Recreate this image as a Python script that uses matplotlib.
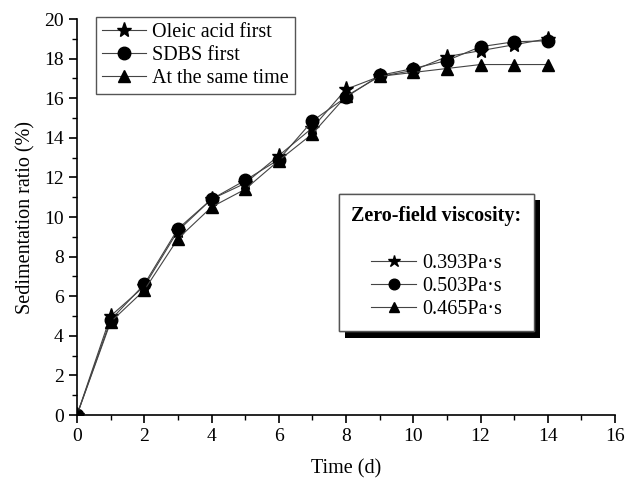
import matplotlib.pyplot as plt
import matplotlib.patheffects as pe
from matplotlib.lines import Line2D

plt.rcParams['font.family'] = ['Liberation Serif', 'DejaVu Serif']

days = [0, 1, 2, 3, 4, 5, 6, 7, 8, 9, 10, 11, 12, 13, 14]
oleic_first = [0, 5.0, 6.5, 9.3, 10.9, 11.7, 13.1, 14.5, 16.45, 17.1, 17.4, 18.1, 18.4, 18.7, 19.0]
sdbs_first = [0, 4.8, 6.6, 9.4, 10.9, 11.85, 12.9, 14.85, 16.05, 17.15, 17.5, 17.9, 18.6, 18.85, 18.9]
same_time = [0, 4.7, 6.3, 8.9, 10.5, 11.4, 12.85, 14.2, 16.1, 17.1, 17.3, 17.5, 17.7, 17.7, 17.7]

names = ["Oleic acid first", "SDBS first", "At the same time"]
viscosity = ["0.393Pa\u00b7s", "0.503Pa\u00b7s", "0.465Pa\u00b7s"]
markers = ["*", "o", "^"]
msizes = [11, 9, 9]

fig = plt.figure(figsize=(6.34, 4.82), dpi=100)
ax = fig.add_axes([77 / 634, 67 / 482, 538 / 634, 396 / 482])

handles = []
for y, name, m, ms in zip([oleic_first, sdbs_first, same_time], names, markers, msizes):
    h, = ax.plot(days, y, color="#444444", lw=0.8, marker=m, ms=ms,
                 mfc="black", mec="black", label=name)
    handles.append(h)

ax.set_xlim(0, 16)
ax.set_ylim(0, 20)
ax.set_xticks(range(0, 17, 2))
ax.set_xticks(range(1, 16, 2), minor=True)
ax.set_yticks(range(0, 21, 2))
ax.set_yticks(range(1, 20, 2), minor=True)
for s in ["top", "right"]:
    ax.spines[s].set_visible(False)
for s in ["left", "bottom"]:
    ax.spines[s].set_linewidth(1.2)
ax.tick_params(which="major", direction="out", length=6, width=1.2, labelsize=14)
ax.tick_params(which="minor", direction="out", length=3.5, width=1.0)
ax.set_xlabel("Time (d)", fontsize=14.5, labelpad=10)
ax.set_ylabel("Sedimentation ratio (%)", fontsize=14.5, labelpad=6)

leg1 = ax.legend(handles=handles, loc="upper left",
                 bbox_to_anchor=(96 / 634, 1 - 17 / 482), bbox_transform=fig.transFigure,
                 fontsize=14.5, frameon=True, fancybox=False, edgecolor="#555555",
                 framealpha=1, handlelength=2.2, handletextpad=0.3, labelspacing=0.2,
                 borderpad=0.3, borderaxespad=0, numpoints=1)
leg1.get_frame().set_linewidth(1.0)
ax.add_artist(leg1)

h2 = [Line2D([], [], color="#444444", lw=0.8, marker=m, ms=ms * 0.85,
             mfc="black", mec="black") for m, ms in zip(markers, msizes)]
leg2 = ax.legend(h2, viscosity, loc="upper left",
                 bbox_to_anchor=(339 / 634, 1 - 194 / 482), bbox_transform=fig.transFigure,
                 title="Zero-field viscosity:\n", fontsize=14.5,
                 title_fontproperties={"weight": "bold", "size": 14.5},
                 alignment="center",
                 frameon=True, fancybox=False, edgecolor="#555555", framealpha=1,
                 handlelength=2.2, handletextpad=0.3, labelspacing=0.2,
                 borderpad=0.62, borderaxespad=0, numpoints=1)
leg2.get_frame().set_linewidth(1.0)
leg2.get_frame().set_path_effects([pe.withSimplePatchShadow(offset=(4.5, -4.5),
                                   shadow_rgbFace="black", alpha=1), pe.Normal()])

fig.savefig("out.png", dpi=100)
